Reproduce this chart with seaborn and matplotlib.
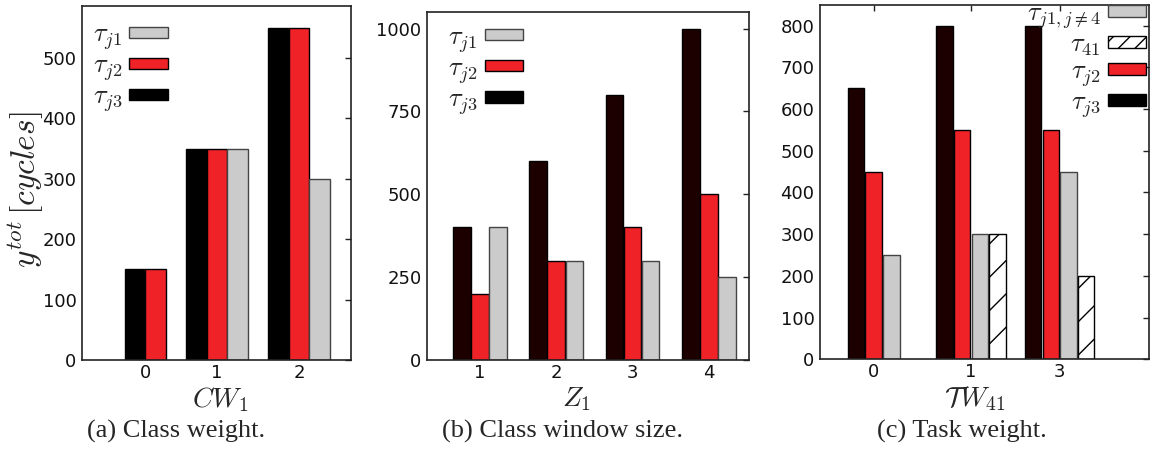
import numpy as np
import pandas as pd
import matplotlib
matplotlib.use("Agg")
import matplotlib.pyplot as plt
import seaborn as sns
from matplotlib.patches import Patch

# ---------------- data ----------------
a_groups = ["0", "1", "2"]
a_tj3 = [150, 350, 550]
a_tj2 = [150, 350, 550]
a_tj1 = [None, 350, 300]

b_groups = ["1", "2", "3", "4"]
b_tj3 = [400, 600, 800, 1000]
b_tj2 = [200, 300, 400, 500]
b_tj1 = [400, 300, 300, 250]

c_groups = ["0", "1", "3"]
c_tj3 = [650, 800, 800]
c_tj2 = [450, 550, 550]
c_tj1 = [250, 300, 450]
c_t41 = [None, 300, 200]

sns.set_style("white")
plt.rcParams["mathtext.fontset"] = "cm"
plt.rcParams["font.family"] = ["DejaVu Sans"]

RED = "#ee2227"
GRAY = "#cbcbcb"
BLK_A = "#000000"
BLK_B = "#1c0000"

fig = plt.figure(figsize=(11.53, 4.49), dpi=100)
axA = fig.add_axes([0.0711, 0.1982, 0.2333, 0.7884])
axB = fig.add_axes([0.3703, 0.1982, 0.2793, 0.7751])
axC = fig.add_axes([0.7112, 0.1998, 0.2854, 0.7897])


def draw(ax, groups, series, gpos, step, frac):
    # series: list of (name, values, face, edge, hatch)
    rows = []
    ticks = []
    for gi in range(len(groups)):
        k = 0
        for name, vals, *_ in series:
            v = vals[gi]
            if v is None:
                continue
            rows.append({"x": round(gpos[gi] + step * (k + 0.5), 6), "y": v, "s": name})
            k += 1
        ticks.append(gpos[gi] + step * k / 2)
    df = pd.DataFrame(rows)
    order = [s[0] for s in series]
    pal = {s[0]: s[2] for s in series}
    sns.barplot(data=df, x="x", y="y", hue="s", hue_order=order, palette=pal,
                native_scale=True, dodge=False, width=frac, errorbar=None,
                legend=False, ax=ax, saturation=1, edgecolor="black", linewidth=1.0)
    for cont, (name, vals, face, edge, hatch) in zip(ax.containers, series):
        for p in cont.patches:
            p.set_facecolor(face)
            p.set_edgecolor(edge)
            if hatch:
                p.set_hatch(hatch)
    ax.set_xticks(ticks)
    ax.set_xticklabels(groups)
    for sp in ax.spines.values():
        sp.set_color("#222222")
        sp.set_linewidth(1.2)
    ax.tick_params(direction="in", length=4, width=1, right=True, labelsize=13,
                   colors="#222222", labelcolor="#111111", pad=4)
    ax.tick_params(axis="x", pad=3)
    ax.set_xlabel("")
    ax.set_ylabel("")


def xlabel(ax, text, xfrac, yfrac):
    ax.set_xlabel(text, fontsize=20)
    ax.xaxis.set_label_coords(xfrac, yfrac)
    ax.xaxis.label.set_va("center")


# panel (a)
seriesA = [("tj3", a_tj3, BLK_A, "black", None),
           ("tj2", a_tj2, RED, "black", None),
           ("tj1", a_tj1, GRAY, "#444444", None)]
draw(axA, a_groups, seriesA, [0, 0.75, 1.75], 0.25, 1.0)
axA.set_xlim(-0.524, 2.76)
axA.set_ylim(0, 586)
axA.set_yticks([0, 100, 200, 300, 400, 500])
axA.set_ylabel(r"$y^{tot}\,[cycles]$", fontsize=24)
axA.yaxis.set_label_coords(-0.21, 0.48)
axA.yaxis.label.set_va("center")
axA.yaxis.label.set_ha("center")
xlabel(axA, r"$CW_1$", 0.513, -0.112)

# panel (b)
seriesB = [("tj3", b_tj3, BLK_B, "black", None),
           ("tj2", b_tj2, RED, "black", None),
           ("tj1", b_tj1, GRAY, "#444444", None)]
draw(axB, b_groups, seriesB, [0, 1, 2, 3], 0.236, 0.97)
axB.set_xlim(-0.34, 3.88)
axB.set_ylim(0, 1050)
axB.set_yticks([0, 250, 500, 750, 1000])
xlabel(axB, r"$Z_1$", 0.466, -0.112)

# panel (c)
seriesC = [("tj3", c_tj3, BLK_B, "black", None),
           ("tj2", c_tj2, RED, "black", None),
           ("tj1", c_tj1, GRAY, "#444444", None),
           ("t41", c_t41, "white", "black", "/")]
draw(axC, c_groups, seriesC, [0, 1, 2], 0.2, 0.93)
axC.set_xlim(-0.305, 3.41)
axC.set_ylim(0, 850)
axC.set_yticks(list(range(0, 801, 100)))
axC.tick_params(top=True)
xlabel(axC, r"$\mathcal{T}W_{41}$", 0.471, -0.11)

# legends
legkw = dict(frameon=False, markerfirst=False, fontsize=19, handlelength=1.45,
             handleheight=0.3, handletextpad=0.27, labelspacing=0.02, borderpad=0.0,
             borderaxespad=0.0)
hA = [Patch(facecolor=GRAY, edgecolor="#444444"),
      Patch(facecolor=RED, edgecolor="black"),
      Patch(facecolor="black", edgecolor="black")]
labs = [r"$\tau_{j1}$", r"$\tau_{j2}$", r"$\tau_{j3}$"]
axA.legend(hA, labs, loc="upper left", bbox_to_anchor=(0.04, 0.955), **legkw)
hB = [Patch(facecolor=GRAY, edgecolor="#444444"),
      Patch(facecolor=RED, edgecolor="black"),
      Patch(facecolor="black", edgecolor="black")]
axB.legend(hB, labs, loc="upper left", bbox_to_anchor=(0.065, 0.965), **legkw)
hC = [Patch(facecolor=GRAY, edgecolor="#444444"),
      Patch(facecolor="white", edgecolor="black", hatch="//"),
      Patch(facecolor=RED, edgecolor="black"),
      Patch(facecolor="black", edgecolor="black")]
labsC = [r"$\tau_{j1,j\neq4}$", r"$\tau_{41}$", r"$\tau_{j2}$", r"$\tau_{j3}$"]
axC.legend(hC, labsC, loc="upper right", bbox_to_anchor=(0.991, 1.012), **legkw)

# captions
capkw = dict(fontsize=19, family=["Liberation Serif", "DejaVu Serif"], ha="center", va="center")
fig.text(176 / 1153, 1 - 431 / 449, "(a) Class weight.", **capkw)
fig.text(562 / 1153, 1 - 431 / 449, "(b) Class window size.", **capkw)
fig.text(962 / 1153, 1 - 431 / 449, "(c) Task weight.", **capkw)

fig.savefig("out.png", dpi=100)
